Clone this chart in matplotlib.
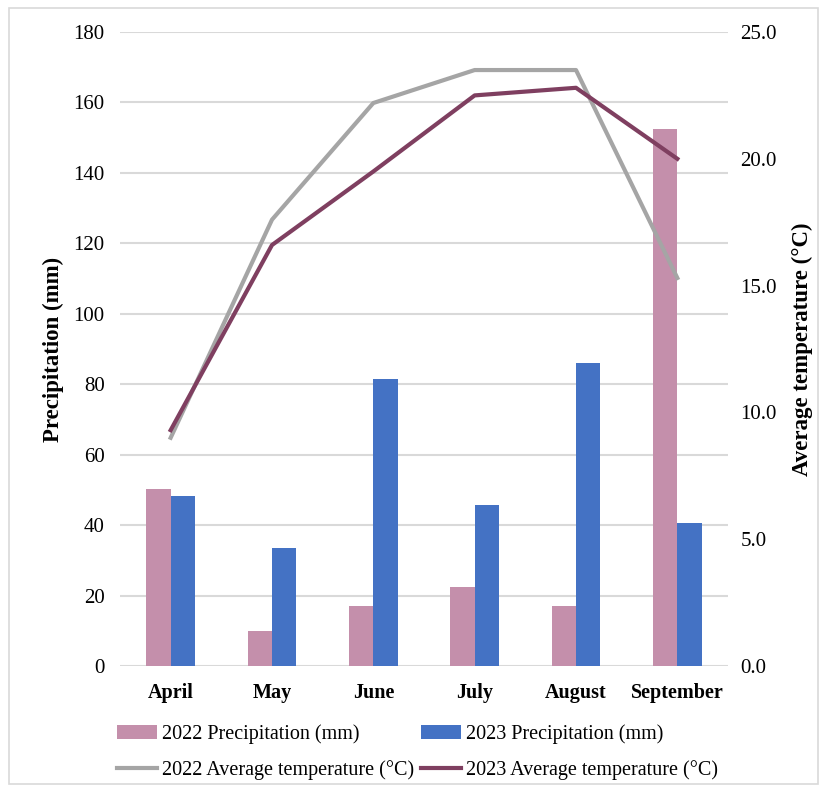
import matplotlib
matplotlib.use("Agg")
from matplotlib import pyplot as plt
from matplotlib.patches import Rectangle
import numpy as np

matplotlib.rcParams.update({'font.size': 15, 'font.family': 'Liberation Serif'})

months = ["April", "May", "June", "July", "August", "September"]
precip_2022 = [50.2, 10.0, 17.0, 22.5, 17.0, 152.5]
precip_2023 = [48.2, 33.4, 81.5, 45.8, 86.0, 40.7]
temp_2022 = [9.0, 17.6, 22.2, 23.5, 23.5, 15.3]
temp_2023 = [9.3, 16.6, 19.5, 22.5, 22.8, 20.0]

pink = "#C48FAB"
blue = "#4472C4"
gray = "#A5A5A5"
purple = "#7F3F60"
grid = "#D9D9D9"

fig = plt.figure(figsize=(8.23, 7.88), dpi=100)
ax = fig.add_axes([120/823, 1-666/788, 608/823, 634/788])
ax2 = ax.twinx()

x = np.arange(len(months))
w = 0.24
b1 = ax.bar(x - w/2, precip_2022, w, color=pink, label="2022 Precipitation (mm)", zorder=2)
b2 = ax.bar(x + w/2, precip_2023, w, color=blue, label="2023 Precipitation (mm)", zorder=2)
l1, = ax2.plot(x, temp_2022, color=gray, lw=3, label="2022 Average temperature (\u00b0C)")
l2, = ax2.plot(x, temp_2023, color=purple, lw=3, label="2023 Average temperature (\u00b0C)")

ax.set_xlim(-0.5, 5.5)
ax.set_ylim(0, 180)
ax.set_yticks(range(0, 181, 20))
ax2.set_ylim(0, 25)
ax2.set_yticks(np.arange(0, 25.1, 5))
ax2.set_yticklabels(["%.1f" % v for v in np.arange(0, 25.1, 5)])
ax.yaxis.grid(True, color=grid, lw=1.5, zorder=0)
ax.set_axisbelow(True)
for a in (ax, ax2):
    for s in a.spines.values():
        s.set_visible(False)
    a.tick_params(length=0, labelsize=15)
ax.tick_params(axis='y', pad=11)
ax2.tick_params(axis='y', pad=9)
ax.set_xticks(x)
ax.set_xticklabels(months, fontweight='bold', fontsize=14.5)
ax.tick_params(axis='x', pad=12)

ax.set_ylabel("Precipitation (mm)", fontweight='bold', fontsize=16.5, labelpad=7)
ax2.set_ylabel("Average temperature (\u00b0C)", fontweight='bold', fontsize=16.5, labelpad=11)

fig.legend([b1, l1, b2, l2],
           [b1.get_label(), l1.get_label(), b2.get_label(), l2.get_label()],
           ncol=2, loc='lower left', bbox_to_anchor=(107/823, -2/788),
           frameon=False, fontsize=14.5, handlelength=2.0, handletextpad=0.25,
           columnspacing=0.3, labelspacing=0.8, borderpad=0.0)

fig.patches.append(Rectangle((9/823, 4/788), 809/823, 776/788, transform=fig.transFigure,
                             fill=False, edgecolor=grid, lw=1.2))

plt.savefig("out.png", dpi=100)
